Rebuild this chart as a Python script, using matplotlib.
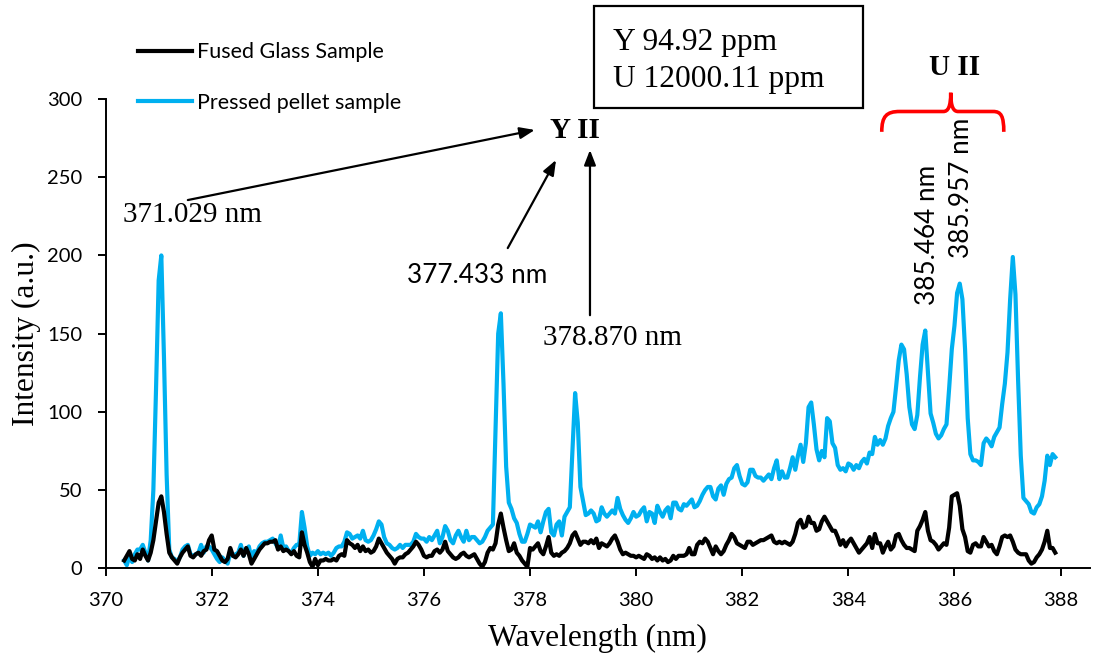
import numpy as np
import matplotlib
matplotlib.use("Agg")
from matplotlib import pyplot as plt
from matplotlib.patches import Rectangle, PathPatch
from matplotlib.path import Path

""" LIBS spectra of the fused glass and pressed pellet samples, 370-388 nm
"""

WL_START = 370.35   # first sampled wavelength (nm)
WL_STEP = 0.05      # sampling step (nm)

# Pressed pellet sample (a.u.) in four stretches
pellet_370_374 = [
    5, 2, 8, 4, 9, 12, 12, 15, 10, 5,
    18, 50, 114, 184, 200, 135, 60, 12, 7, 6,
    4, 7, 12, 14, 15, 9, 8, 9, 10, 15,
    10, 14, 14, 12, 9, 6, 4, 7, 5, 3,
    10, 8, 9, 10, 15, 8, 12, 14, 6, 11,
    10, 14, 16, 17, 17, 18, 19, 16, 13, 21,
    13, 14, 11, 10, 13, 15, 15, 36, 26, 14,
    8, 10, 9, 11, 9, 10, 9, 10, 8, 10,
    13, 14, 14, 17, 23, 22,
]
pellet_374_379 = [
    19, 20, 21, 19, 24, 18, 17, 18, 21, 25,
    30, 28, 20, 16, 15, 13, 12, 13, 15, 13,
    15, 15, 15, 17, 22, 20, 19, 19, 17, 20,
    18, 21, 24, 16, 20, 27, 24, 18, 16, 21,
    24, 20, 17, 24, 18, 20, 20, 18, 16, 17,
    20, 24, 26, 28, 90, 150, 163, 118, 65, 42,
    38, 32, 29, 22, 17, 17, 22, 28, 27, 26,
    30, 23, 30, 36, 38, 23, 21, 28, 30, 21,
    33, 36, 39, 75, 112, 93, 52, 43, 34, 35,
    37, 35, 30,
]
pellet_379_383 = [
    31, 39, 35, 33, 35, 37, 35, 45, 38, 34,
    31, 29, 32, 36, 33, 34, 37, 39, 30, 36,
    35, 29, 40, 36, 33, 37, 39, 32, 42, 42,
    38, 37, 41, 40, 42, 44, 39, 40, 43, 47,
    50, 52, 52, 46, 44, 51, 53, 47, 54, 57,
    58, 64, 66, 59, 54, 53, 55, 63, 63, 59,
    58, 58, 56, 58, 60, 57, 64, 69, 57, 62,
    58, 58, 64, 71, 63, 72, 79, 68, 80, 103,
    106, 92, 76, 69, 75, 71, 96, 94, 80, 77,
    66, 63,
]
pellet_383_388 = [
    64, 62, 67, 66, 63, 66, 64, 68, 70, 67,
    74, 73, 84, 79, 82, 79, 83, 91, 96, 100,
    116, 133, 143, 140, 124, 103, 92, 89, 98, 122,
    143, 152, 125, 99, 93, 86, 83, 85, 89, 92,
    115, 140, 155, 176, 182, 172, 140, 96, 73, 69,
    69, 68, 66, 80, 83, 81, 78, 84, 87, 90,
    105, 118, 138, 172, 199, 175, 120, 72, 45, 43,
    41, 36, 35, 39, 41, 46, 56, 72, 66, 73,
    71,
]

# Fused glass sample (a.u.), same stretches
glass_370_374 = [
    5, 8, 11, 6, 5, 9, 6, 12, 8, 5,
    10, 18, 30, 42, 46, 36, 22, 10, 7, 5,
    3, 7, 10, 12, 14, 8, 7, 9, 10, 8,
    11, 12, 18, 21, 12, 11, 8, 5, 4, 6,
    13, 8, 7, 9, 12, 8, 13, 9, 3, 6,
    9, 12, 14, 16, 16, 17, 17, 18, 12, 14,
    11, 12, 11, 9, 11, 8, 7, 23, 15, 10,
    4, 1, 6, 2, 5, 5, 6, 5, 5, 6,
    5, 8, 9, 8, 18, 16,
]
glass_374_379 = [
    15, 13, 15, 11, 14, 11, 12, 10, 11, 14,
    19, 16, 13, 10, 8, 6, 3, 6, 7, 7,
    9, 10, 12, 14, 17, 15, 12, 8, 7, 8,
    8, 11, 12, 10, 12, 17, 11, 9, 7, 6,
    7, 9, 10, 8, 7, 8, 9, 6, 3, 1,
    4, 10, 13, 12, 16, 28, 35, 26, 18, 11,
    12, 16, 10, 8, 5, 3, 1, 13, 12, 14,
    16, 11, 9, 14, 20, 10, 8, 9, 8, 10,
    11, 13, 16, 21, 23, 19, 15, 17, 17, 16,
    18, 16, 19,
]
glass_379_383 = [
    13, 16, 15, 14, 16, 19, 21, 17, 12, 9,
    10, 9, 8, 8, 7, 8, 7, 6, 9, 8,
    6, 7, 5, 7, 5, 6, 4, 5, 8, 6,
    8, 8, 8, 9, 13, 9, 9, 15, 17, 16,
    19, 17, 13, 9, 14, 11, 9, 11, 15, 18,
    22, 20, 16, 15, 14, 13, 17, 17, 15, 16,
    17, 18, 18, 19, 20, 21, 17, 16, 17, 16,
    17, 16, 15, 17, 22, 29, 31, 26, 27, 33,
    29, 29, 24, 25, 30, 33, 30, 27, 24, 24,
    20, 15,
]
glass_383_388 = [
    18, 14, 17, 19, 16, 13, 10, 12, 14, 16,
    20, 13, 22, 16, 16, 10, 14, 17, 12, 14,
    21, 22, 18, 15, 13, 13, 12, 11, 24, 27,
    31, 36, 24, 18, 17, 15, 12, 14, 16, 15,
    26, 46, 47, 48, 40, 25, 20, 11, 10, 15,
    16, 14, 14, 20, 17, 14, 15, 11, 9, 14,
    20, 21, 20, 21, 17, 12, 10, 9, 9, 9,
    5, 3, 4, 7, 9, 12, 17, 24, 13, 13,
    10,
]

x_ticks = [370, 372, 374, 376, 378, 380, 382, 384, 386, 388]
y_ticks = [0, 50, 100, 150, 200, 250, 300]

SERIF = "Liberation Serif"
SANS = "Lato"
BLUE = "#00B0F0"

PARAMS = {
    "fss": 14.5, # tick labels
    "fsl": 15.5, # legend
    "fsa": 21,   # serif annotations
    "fsn": 18.8, # sans annotations
    "fsx": 22.7, # axis labels / box
}

pellet = np.array(pellet_370_374 + pellet_374_379 + pellet_379_383 + pellet_383_388, dtype=float)
glass = np.array(glass_370_374 + glass_374_379 + glass_379_383 + glass_383_388, dtype=float)
wl = np.round(WL_START + WL_STEP * np.arange(len(pellet)), 2)

fig = plt.figure(figsize=(11.07, 6.59), dpi=100)
ax = fig.add_axes([0.0954, 0.1376, 0.889, 0.7122])

ax.plot(wl, glass, color="black", lw=3.0, label="Fused Glass Sample", zorder=3)
ax.plot(wl, pellet, color=BLUE, lw=3.0, label="Pressed pellet sample", zorder=2)

ax.set_xlim(370, 388.55)
ax.set_ylim(0, 300)
ax.set_xticks(x_ticks)
ax.set_yticks(y_ticks)
for lab in ax.get_xticklabels() + ax.get_yticklabels():
    lab.set_fontfamily(SANS)
    lab.set_fontsize(PARAMS["fss"])
ax.tick_params(direction="out", length=6, width=1.4)
ax.tick_params(axis="x", pad=11)
ax.tick_params(axis="y", pad=11)

for side in ["top", "right"]:
    ax.spines[side].set_visible(False)
for side in ["left", "bottom"]:
    ax.spines[side].set_linewidth(1.4)

ax.set_xlabel("Wavelength (nm)", family=SERIF, fontsize=PARAMS["fsx"], labelpad=11)
ax.set_ylabel("Intensity (a.u.)", family=SERIF, fontsize=PARAMS["fsx"], labelpad=4)

# legend, no frame, above the axes top-left
leg = ax.legend(loc="upper left", bbox_to_anchor=(0.1247, 0.936), bbox_transform=fig.transFigure,
                frameon=False, prop={"family": SANS, "size": PARAMS["fsl"]},
                handlelength=2.5, handletextpad=0.23, labelspacing=1.43,
                borderpad=0, borderaxespad=0)

# wavelength labels
ax.text(371.63, 226, "371.029 nm", family=SERIF, fontsize=PARAMS["fsa"], ha="center", va="center")
ax.text(377.0, 187, "377.433 nm", family=SANS, fontsize=PARAMS["fsn"], ha="center", va="center")
ax.text(379.56, 147, "378.870 nm", family=SERIF, fontsize=PARAMS["fsa"], ha="center", va="center")
ax.text(385.50, 213, "385.464 nm", family=SANS, fontsize=PARAMS["fsn"], ha="center", va="center",
        rotation=90)
ax.text(386.14, 243, "385.957 nm", family=SANS, fontsize=PARAMS["fsn"], ha="center", va="center",
        rotation=90)

ax.text(378.85, 280, "Y II", family=SERIF, fontsize=PARAMS["fsa"], weight="bold",
        ha="center", va="center", clip_on=False)
ax.text(386.0, 320, "U II", family=SERIF, fontsize=PARAMS["fsa"], weight="bold",
        ha="center", va="center", clip_on=False)

arrow = dict(arrowstyle="-|>,head_length=0.9,head_width=0.35", lw=1.6, color="black",
             shrinkA=0, shrinkB=0)
ax.annotate("", xy=(378.09, 280.2), xytext=(371.55, 235.4), arrowprops=arrow, annotation_clip=False)
ax.annotate("", xy=(378.49, 261.0), xytext=(377.58, 204.7), arrowprops=arrow, annotation_clip=False)
ax.annotate("", xy=(379.13, 267.4), xytext=(379.13, 161.8), arrowprops=arrow, annotation_clip=False)

# red curly brace over the U II lines
verts = [
    (384.63, 279), (384.63, 289), (384.72, 292), (384.97, 292),
    (385.79, 292),
    (385.88, 292), (385.93, 295), (385.93, 304),
    (385.93, 295), (385.98, 292), (386.07, 292),
    (386.73, 292),
    (386.88, 292), (386.93, 289), (386.93, 279),
]
codes = [Path.MOVETO, Path.CURVE4, Path.CURVE4, Path.CURVE4,
         Path.LINETO,
         Path.CURVE4, Path.CURVE4, Path.CURVE4,
         Path.CURVE4, Path.CURVE4, Path.CURVE4,
         Path.LINETO,
         Path.CURVE4, Path.CURVE4, Path.CURVE4]
ax.add_patch(PathPatch(Path(verts, codes), fill=False, edgecolor="#FF0000", lw=2.6,
                       clip_on=False, capstyle="butt"))

# concentration box
fig.add_artist(Rectangle((0.5366, 0.836), 0.243, 0.155, transform=fig.transFigure,
                         fill=False, edgecolor="black", lw=1.6))
fig.text(0.554, 0.935, "Y 94.92 ppm", family=SERIF, fontsize=PARAMS["fsx"], va="center")
fig.text(0.554, 0.879, "U 12000.11 ppm", family=SERIF, fontsize=PARAMS["fsx"], va="center")

fig.savefig("out.png", dpi=100)
